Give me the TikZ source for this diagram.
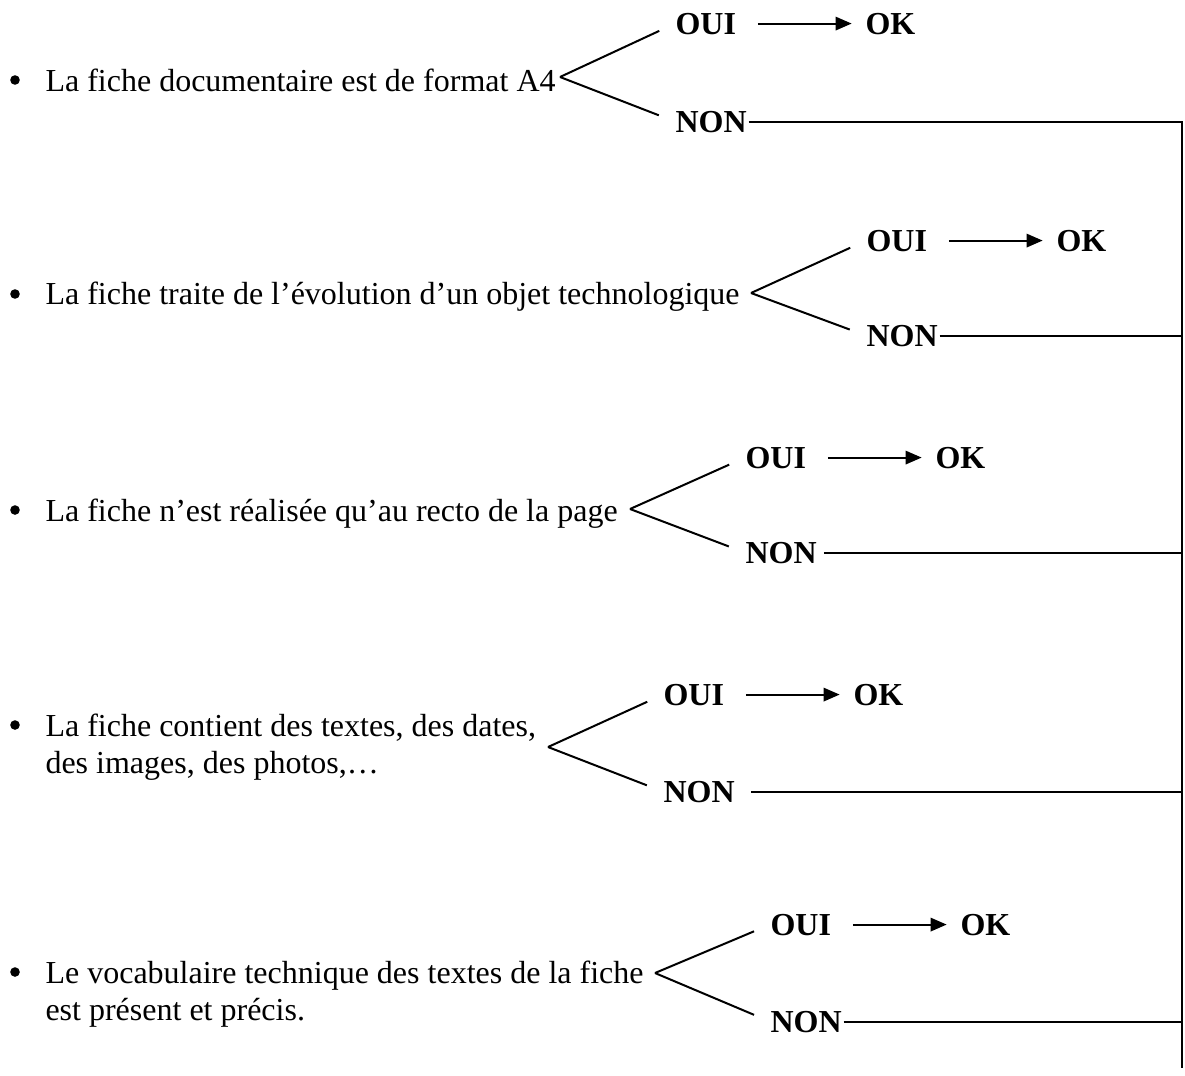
\documentclass[tikz,border=0pt]{standalone}
\usepackage{fontspec}
\setmainfont{Liberation Serif}
\usetikzlibrary{arrows.meta}

\begin{document}
\begin{tikzpicture}[x=0.375pt,y=-0.375pt,font=\fontsize{12}{13.8}\selectfont,
  crit/.style={anchor=base west,inner sep=0pt,align=left},
  dot/.style={circle,fill,inner sep=0pt,minimum size=3.6pt},
  ans/.style={anchor=base west,inner sep=0pt,font=\fontsize{12}{14}\selectfont\bfseries},
  branch/.style={line width=0.75pt,shorten >=6.5pt},
  go/.style={line width=0.75pt,-{Triangle[length=6pt,width=5pt]},shorten <=8pt,shorten >=5pt},
  back/.style={line width=0.75pt,shorten <=0.5pt}]
\useasboundingbox (0,0) rectangle (1185,1075);

\coordinate (top) at (1182,121);
\coordinate (bot) at (1182,1068);
\path[draw,line width=0.75pt] (top) -- (bot);

% format A4
\node[dot] (b1) at (15,80) {};
\node[crit] (t1) at (45,91) {La fiche documentaire est de format A4};
\coordinate (a1) at (560,77);
\node[ans] (o1) at (675,34) {OUI};
\node[ans] (k1) at (865,34) {OK};
\node[ans] (n1) at (675,132) {NON};
\path[draw,branch] (a1) -- (o1.west);
\path[draw,branch] (a1) -- (n1.west);
\path[draw,go] (o1) -- (k1);
\path[draw,back] (n1.east) -- (n1 -| top);

% evolution
\node[dot] (b2) at (15,294) {};
\node[crit] (t2) at (45,304) {La fiche traite de l’évolution d’un objet technologique};
\coordinate (a2) at (751,293);
\node[ans] (o2) at (866,251) {OUI};
\node[ans] (k2) at (1056,251) {OK};
\node[ans] (n2) at (866,346) {NON};
\path[draw,branch] (a2) -- (o2.west);
\path[draw,branch] (a2) -- (n2.west);
\path[draw,go] (o2) -- (k2);
\path[draw,back] (n2.east) -- (n2 -| top);

% recto
\node[dot] (b3) at (15,510) {};
\node[crit] (t3) at (45,521) {La fiche n’est réalisée qu’au recto de la page};
\coordinate (a3) at (630,509);
\node[ans] (o3) at (745,468) {OUI};
\node[ans] (k3) at (935,468) {OK};
\node[ans] (n3) at (745,563) {NON};
\path[draw,branch] (a3) -- (o3.west);
\path[draw,branch] (a3) -- (n3.west);
\path[draw,go] (o3) -- (k3);
\path[draw,back,shorten <=2.5pt] (n3.east) -- (n3 -| top);

% contenu
\node[dot] (b4) at (15,725) {};
\node[crit] (t4) at (45,773) {La fiche contient des textes, des dates,\\des images, des photos,…};
\coordinate (a4) at (548,747);
\node[ans] (o4) at (663,705) {OUI};
\node[ans] (k4) at (853,705) {OK};
\node[ans] (n4) at (663,802) {NON};
\path[draw,branch] (a4) -- (o4.west);
\path[draw,branch] (a4) -- (n4.west);
\path[draw,go] (o4) -- (k4);
\path[draw,back,shorten <=6pt] (n4.east) -- (n4 -| top);

% vocabulaire
\node[dot] (b5) at (15,972) {};
\node[crit] (t5) at (45,1020) {Le vocabulaire technique des textes de la fiche\\est présent et précis.};
\coordinate (a5) at (655,973);
\node[ans] (o5) at (770,935) {OUI};
\node[ans] (k5) at (960,935) {OK};
\node[ans] (n5) at (770,1032) {NON};
\path[draw,branch] (a5) -- (o5.west);
\path[draw,branch] (a5) -- (n5.west);
\path[draw,go] (o5) -- (k5);
\path[draw,back] (n5.east) -- (n5 -| top);
\end{tikzpicture}
\end{document}
